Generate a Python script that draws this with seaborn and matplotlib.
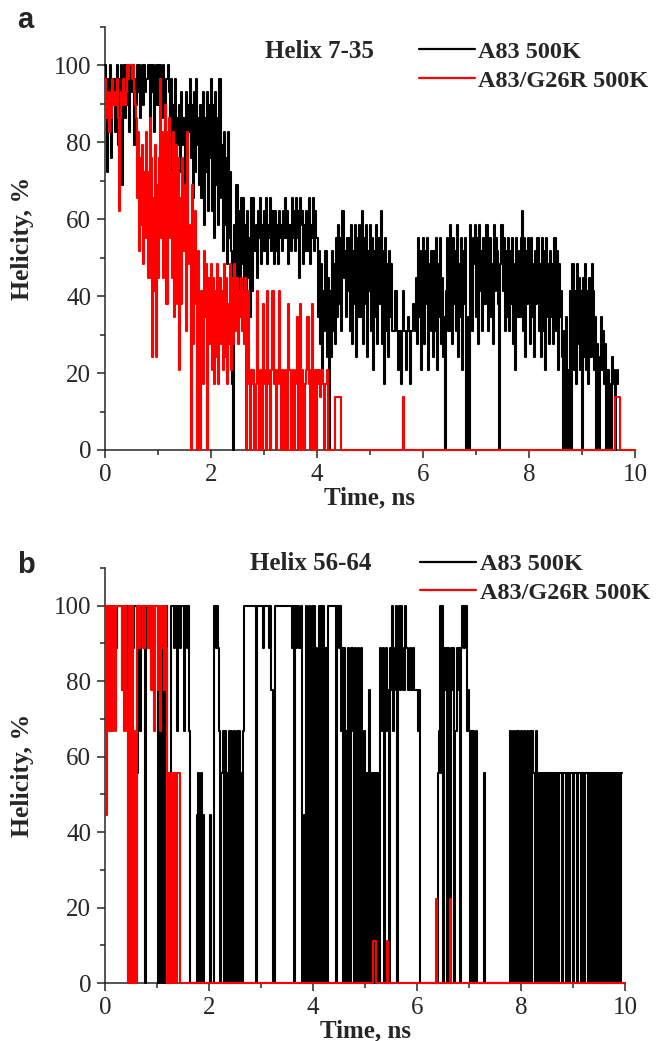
import numpy as np
import pandas as pd
import matplotlib
matplotlib.use("Agg")
import matplotlib.pyplot as plt
from matplotlib.lines import Line2D
from matplotlib.ticker import MultipleLocator
import seaborn as sns

# one frame every 20 ps, ten frames per row below
FRAME_NS = 0.02

# helix 7-35 (29 residues): residues in helical state per frame
helix_a_res = 29
a83_helix_a = [
    29, 27, 21, 28, 25, 29, 22, 26, 28, 24,
    27, 29, 23, 28, 26, 29, 20, 27, 29, 25,
    29, 26, 28, 24, 29, 27, 29, 23, 28, 26,
    29, 27, 29, 25, 28, 29, 26, 29, 27, 28,
    28, 29, 25, 29, 27, 29, 24, 28, 29, 26,
    29, 26, 29, 28, 25, 29, 27, 24, 28, 29,
    27, 22, 28, 20, 26, 24, 28, 19, 25, 23,
    26, 21, 27, 23, 25, 20, 27, 22, 26, 24,
    28, 22, 26, 19, 27, 21, 28, 23, 25, 20,
    26, 19, 27, 17, 25, 21, 27, 18, 26, 22,
    28, 18, 26, 16, 27, 20, 25, 17, 28, 19,
    23, 15, 24, 17, 22, 14, 24, 16, 21, 15,
    5, 0, 17, 12, 20, 13, 18, 11, 19, 14,
    19, 12, 17, 9, 18, 13, 16, 10, 19, 12,
    19, 15, 17, 13, 18, 16, 19, 14, 17, 15,
    18, 15, 19, 14, 17, 16, 19, 15, 18, 14,
    18, 15, 17, 14, 18, 16, 17, 15, 18, 16,
    19, 16, 18, 14, 17, 15, 19, 16, 18, 15,
    19, 16, 18, 13, 19, 17, 18, 14, 17, 15,
    18, 15, 19, 14, 17, 16, 19, 15, 18, 16,
    16, 10, 15, 8, 14, 6, 12, 9, 15, 7,
    13, 0, 12, 7, 15, 9, 14, 8, 16, 10,
    17, 11, 16, 9, 18, 13, 15, 10, 16, 12,
    16, 9, 17, 8, 15, 11, 17, 7, 16, 10,
    17, 10, 18, 8, 16, 11, 17, 7, 15, 12,
    17, 9, 16, 6, 15, 10, 17, 8, 16, 11,
    18, 8, 15, 5, 16, 9, 14, 7, 15, 10,
    14, 9, 9, 9, 12, 9, 6, 9, 9, 5,
    9, 12, 9, 9, 6, 9, 10, 9, 5, 9,
    9, 11, 9, 13, 8, 16, 10, 15, 6, 14,
    16, 8, 15, 11, 16, 6, 14, 9, 15, 7,
    15, 9, 16, 6, 14, 10, 16, 8, 13, 7,
    10, 0, 12, 16, 9, 17, 14, 8, 16, 11,
    15, 9, 17, 7, 14, 10, 16, 6, 15, 11,
    16, 0, 10, 0, 17, 15, 9, 16, 14, 17,
    10, 16, 8, 17, 12, 15, 9, 16, 11, 17,
    17, 9, 15, 16, 10, 14, 8, 17, 12, 16,
    15, 11, 0, 14, 17, 12, 16, 9, 15, 10,
    16, 9, 15, 11, 16, 8, 14, 6, 16, 10,
    15, 10, 16, 18, 9, 16, 7, 15, 11, 16,
    15, 8, 16, 10, 14, 7, 15, 11, 16, 9,
    14, 7, 16, 9, 15, 6, 16, 10, 14, 8,
    15, 10, 14, 8, 16, 9, 15, 6, 14, 10,
    12, 7, 0, 9, 0, 10, 0, 6, 0, 12,
    0, 14, 6, 12, 5, 14, 8, 13, 6, 12,
    0, 13, 7, 14, 6, 12, 5, 13, 7, 14,
    12, 6, 10, 0, 8, 5, 0, 7, 10, 6,
    9, 5, 8, 0, 6, 0, 5, 0, 7, 5,
    6, 0, 5, 6, 5,
]
g26r_helix_a = [
    28, 25, 27, 26, 24, 27, 25, 28, 26, 27,
    26, 28, 25, 18, 25, 27, 26, 28, 27, 26,
    27, 29, 28, 29, 29, 28, 29, 27, 26, 25,
    19, 24, 15, 22, 17, 23, 14, 21, 16, 24,
    21, 13, 25, 22, 7, 19, 12, 23, 7, 20,
    13, 22, 28, 16, 24, 13, 21, 26, 11, 24,
    25, 16, 21, 13, 24, 10, 19, 23, 11, 22,
    6, 19, 11, 22, 15, 20, 9, 24, 14, 17,
    16, 0, 20, 8, 14, 18, 11, 0, 15, 6,
    0, 12, 5, 15, 10, 14, 0, 13, 8, 11,
    14, 6, 13, 5, 12, 7, 14, 5, 13, 8,
    12, 6, 14, 7, 13, 5, 11, 8, 14, 6,
    13, 8, 14, 9, 13, 8, 12, 10, 13, 9,
    12, 8, 13, 0, 6, 12, 5, 0, 6, 5,
    6, 0, 5, 12, 6, 0, 5, 6, 0, 11,
    6, 5, 0, 12, 6, 5, 0, 6, 12, 5,
    6, 0, 5, 6, 12, 5, 0, 6, 5, 0,
    6, 5, 0, 11, 6, 0, 5, 6, 0, 5,
    6, 10, 0, 5, 11, 0, 6, 5, 0, 5,
    6, 10, 5, 0, 6, 11, 0, 5, 6, 0,
    6, 5, 6, 4, 5, 6, 5, 0, 5, 6,
    0, 0, 0, 0, 0, 0, 0, 4, 4, 4,
    4, 4, 4, 0, 0, 0, 0, 0, 0, 0,
    0, 0, 0, 0, 0, 0, 0, 0, 0, 0,
    0, 0, 0, 0, 0, 0, 0, 0, 0, 0,
    0, 0, 0, 0, 0, 0, 0, 0, 0, 0,
    0, 0, 0, 0, 0, 0, 0, 0, 0, 0,
    0, 0, 0, 0, 0, 0, 0, 0, 0, 0,
    0, 4, 0, 0, 0, 0, 0, 0, 0, 0,
    0, 0, 0, 0, 0, 0, 0, 0, 0, 0,
    0, 0, 0, 0, 0, 0, 0, 0, 0, 0,
    0, 0, 0, 0, 0, 0, 0, 0, 0, 0,
    0, 0, 0, 0, 0, 0, 0, 0, 0, 0,
    0, 0, 0, 0, 0, 0, 0, 0, 0, 0,
    0, 0, 0, 0, 0, 0, 0, 0, 0, 0,
    0, 0, 0, 0, 0, 0, 0, 0, 0, 0,
    0, 0, 0, 0, 0, 0, 0, 0, 0, 0,
    0, 0, 0, 0, 0, 0, 0, 0, 0, 0,
    0, 0, 0, 0, 0, 0, 0, 0, 0, 0,
    0, 0, 0, 0, 0, 0, 0, 0, 0, 0,
    0, 0, 0, 0, 0, 0, 0, 0, 0, 0,
    0, 0, 0, 0, 0, 0, 0, 0, 0, 0,
    0, 0, 0, 0, 0, 0, 0, 0, 0, 0,
    0, 0, 0, 0, 0, 0, 0, 0, 0, 0,
    0, 0, 0, 0, 0, 0, 0, 0, 0, 0,
    0, 0, 0, 0, 0, 0, 0, 0, 0, 0,
    0, 0, 0, 0, 0, 0, 0, 0, 0, 0,
    0, 0, 0, 0, 0, 0, 0, 0, 0, 0,
    0, 4, 4, 4, 4, 4, 0, 0, 0, 0,
    0, 0, 0, 0, 0, 0, 0, 0, 0, 0,
    0,
]

# helix 56-64 (9 residues)
helix_b_res = 9
a83_helix_b = [
    9, 9, 9, 8, 9, 9, 9, 7, 9, 9,
    9, 8, 9, 9, 9, 9, 7, 9, 9, 9,
    9, 9, 0, 0, 0, 9, 9, 8, 9, 9,
    9, 5, 9, 9, 6, 9, 9, 9, 0, 9,
    9, 9, 8, 9, 9, 7, 9, 9, 9, 9,
    9, 0, 0, 9, 7, 0, 9, 0, 0, 9,
    5, 0, 5, 9, 9, 9, 8, 9, 9, 6,
    9, 9, 8, 9, 9, 9, 6, 9, 9, 8,
    9, 6, 0, 0, 0, 0, 0, 0, 4, 5,
    0, 4, 5, 0, 4, 0, 0, 0, 0, 0,
    0, 4, 0, 0, 0, 9, 9, 8, 9, 8,
    6, 0, 5, 6, 0, 6, 0, 5, 0, 6,
    0, 6, 5, 0, 6, 0, 5, 6, 0, 6,
    0, 5, 0, 6, 9, 9, 9, 9, 9, 9,
    9, 9, 9, 9, 9, 0, 9, 9, 9, 9,
    9, 9, 8, 9, 9, 9, 9, 9, 8, 9,
    7, 7, 0, 9, 9, 9, 9, 9, 9, 9,
    9, 9, 9, 9, 9, 9, 9, 9, 9, 9,
    8, 9, 0, 9, 8, 9, 9, 8, 9, 0,
    0, 4, 0, 9, 0, 0, 9, 8, 0, 9,
    0, 9, 0, 8, 0, 4, 9, 0, 9, 0,
    9, 0, 8, 0, 9, 9, 9, 9, 9, 9,
    9, 9, 0, 9, 9, 8, 9, 6, 8, 0,
    8, 0, 6, 0, 8, 5, 0, 8, 6, 0,
    8, 0, 6, 8, 0, 5, 8, 0, 4, 6,
    0, 5, 0, 5, 7, 0, 5, 0, 5, 0,
    5, 0, 5, 0, 8, 7, 6, 8, 0, 7,
    8, 6, 7, 0, 8, 7, 9, 6, 7, 8,
    9, 0, 8, 9, 7, 9, 8, 7, 9, 8,
    8, 7, 7, 8, 7, 7, 8, 7, 7, 7,
    7, 6, 7, 0, 0, 0, 0, 0, 0, 0,
    0, 0, 0, 0, 0, 0, 0, 0, 0, 0,
    5, 6, 9, 5, 9, 0, 8, 7, 8, 0,
    8, 6, 0, 8, 7, 8, 0, 6, 8, 7,
    8, 0, 8, 9, 9, 8, 9, 9, 6, 7,
    6, 0, 6, 0, 6, 5, 0, 6, 0, 0,
    0, 0, 0, 0, 5, 0, 0, 0, 0, 0,
    0, 0, 0, 0, 0, 0, 0, 0, 0, 0,
    0, 0, 0, 0, 0, 0, 0, 0, 0, 6,
    0, 5, 6, 0, 5, 6, 0, 6, 5, 0,
    6, 5, 0, 6, 0, 5, 6, 0, 5, 6,
    0, 6, 5, 0, 6, 0, 5, 0, 5, 5,
    0, 5, 0, 5, 5, 0, 5, 0, 5, 5,
    0, 5, 0, 5, 0, 5, 0, 5, 5, 0,
    5, 5, 5, 0, 5, 5, 0, 5, 5, 5,
    0, 5, 5, 5, 0, 5, 5, 5, 0, 5,
    5, 0, 5, 5, 0, 5, 0, 5, 0, 5,
    5, 0, 5, 0, 5, 5, 0, 5, 0, 5,
    0, 5, 0, 5, 0, 5, 0, 5, 0, 5,
    0, 5, 0, 5, 5, 0, 5, 5,
]
g26r_helix_b = [
    9, 4, 9, 9, 6, 9, 6, 6, 9, 9,
    6, 9, 9, 9, 9, 9, 7, 9, 6, 9,
    7, 6, 0, 9, 5, 0, 9, 0, 5, 6,
    0, 9, 9, 8, 9, 9, 9, 8, 9, 9,
    9, 8, 9, 9, 7, 9, 9, 6, 9, 9,
    9, 7, 9, 6, 9, 8, 9, 7, 9, 8,
    0, 5, 0, 5, 5, 0, 5, 5, 0, 5,
    5, 5, 0, 0, 0, 0, 0, 0, 0, 0,
    0, 0, 0, 0, 0, 0, 0, 0, 0, 0,
    0, 0, 0, 0, 0, 0, 0, 0, 0, 0,
    0, 0, 0, 0, 0, 0, 0, 0, 0, 0,
    0, 0, 0, 0, 0, 0, 0, 0, 0, 0,
    0, 0, 0, 0, 0, 0, 0, 0, 0, 0,
    0, 0, 0, 0, 0, 0, 0, 0, 0, 0,
    0, 0, 0, 0, 0, 0, 0, 0, 0, 0,
    0, 0, 0, 0, 0, 0, 0, 0, 0, 0,
    0, 0, 0, 0, 0, 0, 0, 0, 0, 0,
    0, 0, 0, 0, 0, 0, 0, 0, 0, 0,
    0, 0, 0, 0, 0, 0, 0, 0, 0, 0,
    0, 0, 0, 0, 0, 0, 0, 0, 0, 0,
    0, 0, 0, 0, 0, 0, 0, 0, 0, 0,
    0, 0, 0, 0, 0, 0, 0, 0, 0, 0,
    0, 0, 0, 0, 0, 0, 0, 0, 0, 0,
    0, 0, 0, 0, 0, 0, 0, 0, 0, 0,
    0, 0, 0, 0, 0, 0, 0, 0, 0, 0,
    0, 0, 0, 0, 0, 0, 0, 0, 1, 1,
    1, 0, 0, 0, 0, 0, 0, 0, 0, 0,
    0, 1, 0, 0, 0, 0, 0, 0, 0, 0,
    0, 0, 0, 0, 0, 0, 0, 0, 0, 0,
    0, 0, 0, 0, 0, 0, 0, 0, 0, 0,
    0, 0, 0, 0, 0, 0, 0, 0, 0, 0,
    0, 0, 0, 0, 0, 0, 0, 0, 2, 0,
    0, 0, 0, 0, 0, 0, 0, 0, 0, 0,
    0, 0, 2, 0, 0, 0, 0, 0, 0, 0,
    0, 0, 0, 0, 0, 0, 0, 0, 0, 0,
    0, 0, 0, 0, 0, 0, 0, 0, 0, 0,
    0, 0, 0, 0, 0, 0, 0, 0, 0, 0,
    0, 0, 0, 0, 0, 0, 0, 0, 0, 0,
    0, 0, 0, 0, 0, 0, 0, 0, 0, 0,
    0, 0, 0, 0, 0, 0, 0, 0, 0, 0,
    0, 0, 0, 0, 0, 0, 0, 0, 0, 0,
    0, 0, 0, 0, 0, 0, 0, 0, 0, 0,
    0, 0, 0, 0, 0, 0, 0, 0, 0, 0,
    0, 0, 0, 0, 0, 0, 0, 0, 0, 0,
    0, 0, 0, 0, 0, 0, 0, 0, 0, 0,
    0, 0, 0, 0, 0, 0, 0, 0, 0, 0,
    0, 0, 0, 0, 0, 0, 0, 0, 0, 0,
    0, 0, 0, 0, 0, 0, 0, 0, 0, 0,
    0, 0, 0, 0, 0, 0, 0, 0, 0, 0,
    0, 0, 0, 0, 0, 0, 0, 0, 0, 0,
    0,
]

labels = ["A83 500K", "A83/G26R 500K"]
colors = ["black", "#ff0000"]

sns.set_style("ticks")
plt.rcParams["font.family"] = ["Liberation Serif", "DejaVu Serif"]
plt.rcParams["axes.linewidth"] = 1.1


def trace(counts, n_res):
    df = pd.DataFrame({"helicity": 100 * np.asarray(counts) / n_res})
    df["time"] = df.index * FRAME_NS
    return df


def panel(ax, series, n_res, title, leg_xy, title_xy):
    for i, counts in enumerate(series):
        sns.lineplot(data=trace(counts, n_res), x="time", y="helicity", ax=ax,
                     color=colors[i], lw=1.5, drawstyle="steps-post",
                     estimator=None, zorder=3 + i, clip_on=False)
    ax.set_xlim(0, 10)
    ax.set_ylim(0, 110)
    ax.xaxis.set_major_locator(MultipleLocator(2))
    ax.xaxis.set_minor_locator(MultipleLocator(1))
    ax.yaxis.set_major_locator(MultipleLocator(20))
    ax.yaxis.set_minor_locator(MultipleLocator(10))
    ax.set_yticks([0, 20, 40, 60, 80, 100])
    ax.tick_params(which="major", direction="out", length=6, width=1.1,
                   labelsize=18, pad=4)
    ax.tick_params(which="minor", direction="out", length=3.5, width=1.1)
    sns.despine(ax=ax)
    ax.set_xlabel("Time, ns", fontsize=18, fontweight="bold", labelpad=0)
    ax.set_ylabel("Helicity, %", fontsize=18.5, fontweight="bold")
    ax.text(title_xy[0], title_xy[1], title, transform=ax.transAxes,
            fontsize=18, fontweight="bold", ha="center", va="center")
    handles = [Line2D([], [], color=c, lw=1.6) for c in colors]
    ax.legend(handles, labels, loc="upper left", bbox_to_anchor=leg_xy,
              frameon=False, borderpad=0, borderaxespad=0, handlelength=2.3,
              handletextpad=0.15, labelspacing=0.28,
              prop={"size": 17.5, "weight": "bold"})


fig = plt.figure(figsize=(6.6, 10.41), dpi=100)
ax_a = fig.add_axes([105 / 660, 1 - 450 / 1041, 530 / 660, 423 / 1041])
ax_b = fig.add_axes([105 / 660, 1 - 983 / 1041, 520 / 660, 415 / 1041])

panel(ax_a, [a83_helix_a, g26r_helix_a], helix_a_res, "Helix 7-35",
      (0.592, 0.967), (0.404, 0.942))
panel(ax_b, [a83_helix_b, g26r_helix_b], helix_b_res, "Helix 56-64",
      (0.606, 1.036), (0.396, 1.012))
ax_a.yaxis.set_label_coords(-0.134, 0.5)
ax_b.yaxis.set_label_coords(-0.137, 0.5)

for y, letter in [(1 - 28 / 1041, "a"), (1 - 573 / 1041, "b")]:
    fig.text(0.026, y, letter, fontsize=21, fontweight="bold",
             family="Liberation Sans", va="baseline")

fig.savefig("out.png", dpi=100)
